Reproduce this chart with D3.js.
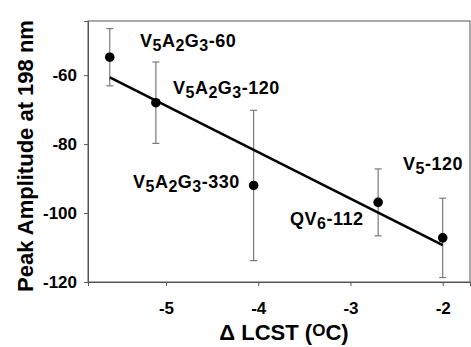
<!DOCTYPE html>
<html>
<head>
<meta charset="utf-8">
<script src="https://cdn.jsdelivr.net/npm/d3@7"></script>
<style>
  body { margin: 0; background: #fff; }
  text { font-family: Arial, "Liberation Sans", sans-serif; font-weight: bold; }
</style>
</head>
<body>
<svg id="chart"></svg>
<script>
// data
var dLcst = [-5.61, -5.11, -4.05, -2.70, -2.0];
var peak = [-54.8, -68.0, -92.0, -96.9, -107.2];
var errs = [8.3, 11.8, 21.8, 9.7, 11.5];
// label parts: [text, isSubscript]
var names = [
  [["V", 0], ["5", 1], ["A", 0], ["2", 1], ["G", 0], ["3", 1], ["-60", 0]],
  [["V", 0], ["5", 1], ["A", 0], ["2", 1], ["G", 0], ["3", 1], ["-120", 0]],
  [["V", 0], ["5", 1], ["A", 0], ["2", 1], ["G", 0], ["3", 1], ["-330", 0]],
  [["QV", 0], ["6", 1], ["-112", 0]],
  [["V", 0], ["5", 1], ["-120", 0]]
];
var xTicks = [-5, -4, -3, -2];
var yTicks = [-60, -80, -100, -120];

var width = 471, height = 347;
var margin = {top: 21, right: 1, bottom: 65, left: 88};

var svg = d3.select("#chart")
  .attr("width", width)
  .attr("height", height);

var x = d3.scaleLinear().domain([-5.846, -1.704]).range([margin.left, width - margin.right]);
var y = d3.scaleLinear().domain([-120, -44.3]).range([height - margin.bottom, margin.top]);

// frame
svg.append("rect")
  .attr("x", margin.left)
  .attr("y", margin.top)
  .attr("width", width - margin.right - margin.left)
  .attr("height", height - margin.bottom - margin.top)
  .attr("fill", "none")
  .attr("stroke", "#555")
  .attr("stroke-width", 1);

var xAxis = svg.append("g")
  .attr("transform", "translate(0," + (height - margin.bottom) + ")")
  .call(d3.axisBottom(x).tickValues(xTicks).tickSize(4).tickPadding(16));
var yAxis = svg.append("g")
  .attr("transform", "translate(" + margin.left + ",0)")
  .call(d3.axisLeft(y).tickValues(yTicks).tickSize(4).tickPadding(7));

[xAxis, yAxis].forEach(function (g) {
  g.select(".domain").attr("stroke", "#555");
  g.selectAll(".tick line").attr("stroke", "#555");
  g.selectAll(".tick text")
    .attr("fill", "#000")
    .style("font-size", "17px")
    .style("font-family", "Arial, 'Liberation Sans', sans-serif")
    .style("font-weight", "bold")
    .text(function (d) { return String(d); });
});

// error bars
var bars = svg.selectAll("g.err")
  .data(dLcst)
  .enter()
  .append("g")
  .attr("class", "err")
  .attr("stroke", "#7a7a7a")
  .attr("stroke-width", 1.2);

bars.append("line")
  .attr("x1", function (d) { return x(d); })
  .attr("x2", function (d) { return x(d); })
  .attr("y1", function (d, i) { return y(peak[i] + errs[i]); })
  .attr("y2", function (d, i) { return y(peak[i] - errs[i]); });
bars.append("line")
  .attr("x1", function (d) { return x(d) - 3.5; })
  .attr("x2", function (d) { return x(d) + 3.5; })
  .attr("y1", function (d, i) { return y(peak[i] + errs[i]); })
  .attr("y2", function (d, i) { return y(peak[i] + errs[i]); });
bars.append("line")
  .attr("x1", function (d) { return x(d) - 3.5; })
  .attr("x2", function (d) { return x(d) + 3.5; })
  .attr("y1", function (d, i) { return y(peak[i] - errs[i]); })
  .attr("y2", function (d, i) { return y(peak[i] - errs[i]); });

// least squares line
var mx = d3.mean(dLcst), my = d3.mean(peak);
var sxy = d3.sum(dLcst, function (d, i) { return (d - mx) * (peak[i] - my); });
var sxx = d3.sum(dLcst, function (d) { return (d - mx) * (d - mx); });
var slope = sxy / sxx, icpt = my - slope * mx;
var xEnds = d3.extent(dLcst);

svg.append("path")
  .datum(xEnds)
  .attr("fill", "none")
  .attr("stroke", "#000")
  .attr("stroke-width", 2.5)
  .attr("d", d3.line()
    .x(function (d) { return x(d); })
    .y(function (d) { return y(slope * d + icpt); }));

svg.selectAll("circle.pt")
  .data(dLcst)
  .enter()
  .append("circle")
  .attr("class", "pt")
  .attr("cx", function (d) { return x(d); })
  .attr("cy", function (d, i) { return y(peak[i]); })
  .attr("r", 4.8)
  .attr("fill", "#000");

// point labels
var labelPos = [[140, 47], [173, 94], [133, 188], [290, 225], [403, 170]];
names.forEach(function (parts, i) {
  var t = svg.append("text")
    .attr("x", labelPos[i][0])
    .attr("y", labelPos[i][1])
    .style("font-size", "18px")
    .style("letter-spacing", "0.5px")
    .attr("fill", "#000");
  var shifted = false;
  parts.forEach(function (p) {
    var s = t.append("tspan").text(p[0]);
    if (p[1]) {
      s.attr("dy", shifted ? 0 : 4).style("font-size", "16px");
      shifted = true;
    } else {
      s.attr("dy", shifted ? -4 : 0);
      shifted = false;
    }
  });
});

// axis titles
svg.append("text")
  .attr("transform", "translate(33,156) rotate(-90)")
  .attr("text-anchor", "middle")
  .style("font-size", "22px")
  .text("Peak Amplitude at 198 nm");

var xt = svg.append("text")
  .attr("x", 284)
  .attr("y", 340)
  .attr("text-anchor", "middle")
  .style("font-size", "22px");
xt.append("tspan").text("\u0394 LCST (");
xt.append("tspan").attr("dy", -4).style("font-size", "17px").text("O");
xt.append("tspan").attr("dy", 4).text("C)");
</script>
</body>
</html>
